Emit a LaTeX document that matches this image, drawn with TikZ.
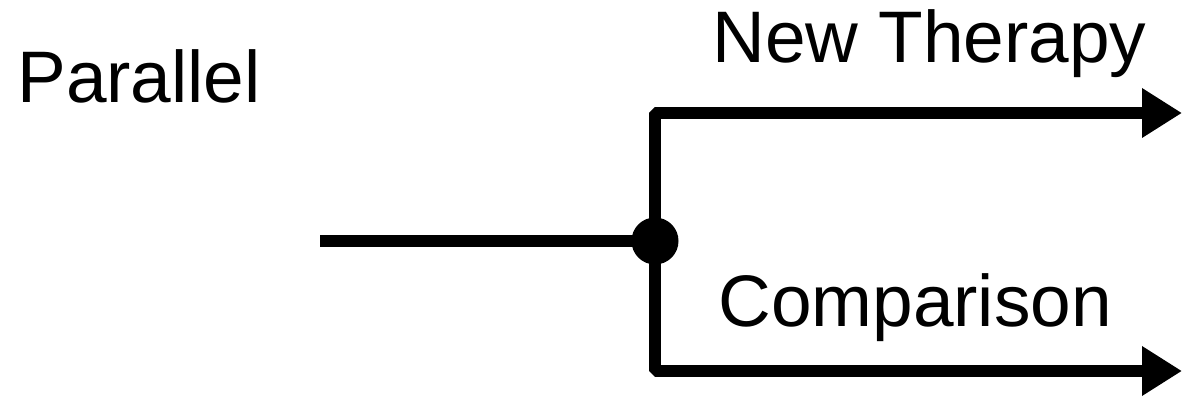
\documentclass[tikz,border=0pt]{standalone}
\usepackage{fontspec}
\setmainfont{Liberation Sans}
\usetikzlibrary{arrows.meta}
\begin{document}
\begin{tikzpicture}[x=0.5pt,y=-0.5pt,
  label/.style={anchor=base west,inner sep=0pt,font=\fontsize{36.5pt}{40pt}\selectfont},
  wire/.style={line width=6pt,line join=bevel},
  arrowwire/.style={wire,-{Triangle[length=20pt,width=23.5pt]}},
  junction/.style={circle,fill=black,inner sep=0pt,minimum size=23.5pt}]
\useasboundingbox (0,0) rectangle (1183,400);
\node[label] (parallel) at (17,103) {Parallel};
\node[label] (newtherapy) at (712,63) {New Therapy};
\node[label] (comparison) at (718,327) {Comparison};
\coordinate (start) at (320,241);
\node[junction] (j) at (655,241) {};
\coordinate (topend) at (1182,113);
\coordinate (botend) at (1182,371);
\draw[wire] (start) -- (j.center);
\draw[arrowwire] (j.center) |- (topend);
\draw[arrowwire] (j.center) |- (botend);
\end{tikzpicture}
\end{document}
